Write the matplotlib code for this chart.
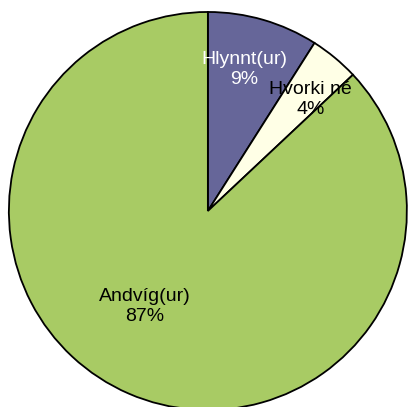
import matplotlib
matplotlib.use("Agg")
import matplotlib.pyplot as plt

labels = ["Hlynnt(ur)", "Hvorki né", "Andvíg(ur)"]
shares = [9, 4, 87]
colors = ["#666699", "#FFFFE6", "#A8CB64"]
textColors = ["white", "black", "black"]
# label positions in radius units, as placed in the original
labelPos = [(0.185, 0.71), (0.515, 0.56), (-0.315, -0.48)]

plt.rcParams['font.family'] = ['Liberation Sans', 'DejaVu Sans']

fig = plt.figure(figsize=(4.1, 4.07), dpi=100)
ax = fig.add_axes([0.507 - 0.4878, 0.4816 - 0.4914, 0.9756, 0.9828])

ax.pie(shares, colors=colors, startangle=90, counterclock=False, radius=1,
       wedgeprops={"edgecolor": "black", "linewidth": 1.3})

for name, val, pos, tc in zip(labels, shares, labelPos, textColors):
    ax.text(pos[0], pos[1], f"{name}\n{val}%", ha="center", va="center",
            fontsize=14, color=tc, linespacing=1.25)

ax.set_xlim(-1.005, 1.005)
ax.set_ylim(-1.005, 1.005)
ax.set_aspect("auto")
ax.axis("off")

fig.savefig("out.png", dpi=100)
